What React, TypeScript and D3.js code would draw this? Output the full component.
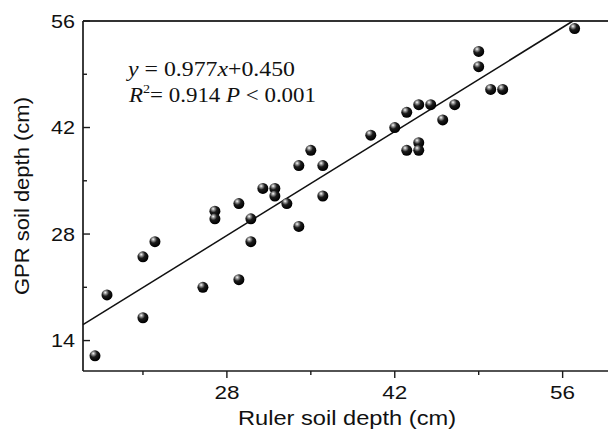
import React from "react";
import * as d3 from "d3";

const rulerDepth = [17, 18, 21, 21, 22, 26, 27, 27, 29, 29, 30, 30, 31, 32, 32, 33, 34, 34, 35, 36, 36, 40, 42, 43, 43, 44, 44, 44, 45, 46, 47, 49, 49, 50, 51, 57];
const gprDepth = [12, 20, 17, 25, 27, 21, 31, 30, 22, 32, 30, 27, 34, 34, 33, 32, 29, 37, 39, 37, 33, 41, 42, 44, 39, 40, 39, 45, 45, 43, 45, 52, 50, 47, 47, 55];
const majorTicks = [14, 28, 42, 56];
const xMajorTicks = [28, 42, 56];
const minorTicks = [21, 35, 49];
const slope = 0.977;
const intercept = 0.45;

export default function App() {
  const W = 608, H = 432;
  const x = d3.scaleLinear().domain([16, 60]).range([83, 610.6]);
  const y = d3.scaleLinear().domain([10, 56]).range([371, 21]);
  const left = x(16), bottom = y(10), top = y(56);
  const xEnd = (56 - intercept) / slope;
  const axisColor = "#1a1a1a";
  const sans = "'Liberation Sans', Arial, sans-serif";
  const serif = "'Liberation Serif', 'Times New Roman', serif";
  return (
    <svg width={W} height={H} style={{ position: "absolute", left: 0, top: 0, background: "#fff" }}>
      <defs>
        <radialGradient id="ball" cx="0.38" cy="0.32" r="0.65" fx="0.34" fy="0.28">
          <stop offset="0" stopColor="#ffffff" />
          <stop offset="0.2" stopColor="#9a9a9a" />
          <stop offset="0.5" stopColor="#1c1c1c" />
          <stop offset="1" stopColor="#000000" />
        </radialGradient>
      </defs>
      {/* frame */}
      <line x1={left} x2={W} y1={top} y2={top} stroke="#333" strokeWidth={2} />
      <line x1={left} x2={left} y1={top} y2={bottom} stroke={axisColor} strokeWidth={1.7} />
      <line x1={left} x2={W} y1={bottom} y2={bottom} stroke={axisColor} strokeWidth={1.7} />
      {/* y ticks (inward) */}
      {majorTicks.map((t) => (
        <g key={"ym" + t}>
          <line x1={left} x2={left + 7} y1={y(t)} y2={y(t)} stroke={axisColor} strokeWidth={1.4} />
          <text x={75} y={y(t)} dy="0.36em" textAnchor="end" fontFamily={sans} fontSize={18.5} textLength={24} lengthAdjust="spacingAndGlyphs" fill="#111">{t}</text>
        </g>
      ))}
      {minorTicks.map((t) => (
        <line key={"yn" + t} x1={left} x2={left + 4} y1={y(t)} y2={y(t)} stroke={axisColor} strokeWidth={1.4} />
      ))}
      {/* x ticks (outward) */}
      {xMajorTicks.map((t) => (
        <g key={"xm" + t}>
          <line x1={x(t)} x2={x(t)} y1={bottom} y2={bottom + 7} stroke={axisColor} strokeWidth={1.4} />
          <text x={x(t) - 12.5} y={399} fontFamily={sans} fontSize={18.5} textLength={25} lengthAdjust="spacingAndGlyphs" fill="#111">{t}</text>
        </g>
      ))}
      {minorTicks.map((t) => (
        <line key={"xn" + t} x1={x(t)} x2={x(t)} y1={bottom} y2={bottom + 4} stroke={axisColor} strokeWidth={1.4} />
      ))}
      {/* axis titles */}
      <text x={238} y={425} fontFamily={sans} fontSize={19.5} textLength={218} lengthAdjust="spacingAndGlyphs" fill="#111">Ruler soil depth (cm)</text>
      <text transform="translate(29,295) rotate(-90)" x={0} y={0} fontFamily={sans} fontSize={19.5} textLength={198} lengthAdjust="spacingAndGlyphs" fill="#111">GPR soil depth (cm)</text>
      {/* fit line */}
      <line x1={x(16)} y1={y(slope * 16 + intercept)} x2={x(xEnd)} y2={y(56)} stroke="#111" strokeWidth={1.5} />
      {/* points */}
      {rulerDepth.map((v, i) => (
        <circle key={i} cx={x(v)} cy={y(gprDepth[i])} r={5.5} fill="url(#ball)" />
      ))}
      {/* equation */}
      <text x={128} y={76} fontFamily={serif} fontSize={21} textLength={167} lengthAdjust="spacingAndGlyphs" fill="#111">
        <tspan fontStyle="italic">y</tspan>
        <tspan> = 0.977</tspan>
        <tspan fontStyle="italic">x</tspan>
        <tspan>+0.450</tspan>
      </text>
      <text x={129} y={102} fontFamily={serif} fontSize={21} textLength={187} lengthAdjust="spacingAndGlyphs" fill="#111">
        <tspan fontStyle="italic">R</tspan>
        <tspan fontSize={13} dy={-9}>2</tspan>
        <tspan dy={9}>= 0.914 </tspan>
        <tspan fontStyle="italic">P</tspan>
        <tspan> &lt; 0.001</tspan>
      </text>
    </svg>
  );
}
